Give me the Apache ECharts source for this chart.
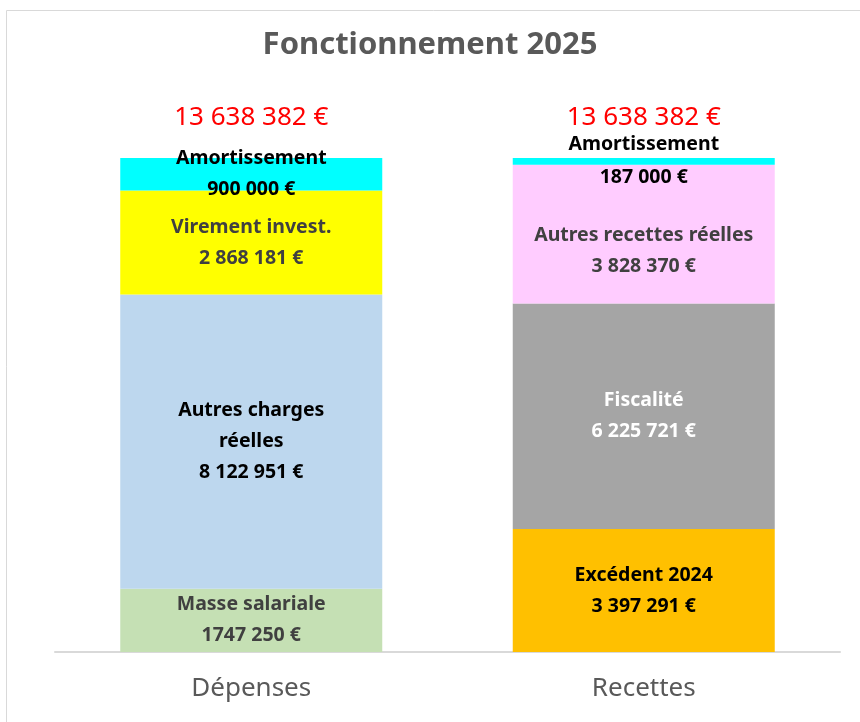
<!DOCTYPE html>
<html>
<head>
<meta charset="utf-8">
<script src="https://cdn.jsdelivr.net/npm/echarts@6/dist/echarts.min.js"></script>
<style>
  html, body { margin: 0; padding: 0; background: #fff; }
  #chart { width: 860px; height: 722px; }
</style>
</head>
<body>
<div id="chart"></div>
<script>
const categories = ['Dépenses', 'Recettes']

const depensesNames = ['Masse salariale', 'Autres charges\nréelles', 'Virement invest.', 'Amortissement']
const depensesValues = [1747250, 8122951, 2868181, 900000]
const depensesTexts = ['1747 250 €', '8 122 951 €', '2 868 181 €', '900 000 €']
const depensesColors = ['#C5E0B4', '#BDD7EE', '#FFFF00', '#00FFFF']
const depensesLabelColors = ['#404040', '#000000', '#404040', '#000000']

const recettesNames = ['Excédent 2024', 'Fiscalité', 'Autres recettes réelles', 'Amortissement']
const recettesValues = [3397291, 6225721, 3828370, 187000]
const recettesTexts = ['3 397 291 €', '6 225 721 €', '3 828 370 €', '187 000 €']
const recettesColors = ['#FFC000', '#A5A5A5', '#FFCCFF', '#00FFFF']
const recettesLabelColors = ['#000000', '#FFFFFF', '#404040', '#000000']

const font = '"Noto Sans", sans-serif'

function sum (arr) {
  return arr.reduce((a, b) => a + b, 0)
}
const totals = [sum(depensesValues), sum(recettesValues)]

function fmt (v) {
  return String(v).replace(/\B(?=(\d{3})+(?!\d))/g, ' ') + ' €'
}

let series = []
depensesValues.forEach((v, i) => {
  series.push({
    name: depensesNames[i],
    type: 'bar',
    stack: 'total',
    barWidth: 262,
    data: [v, '-'],
    itemStyle: { color: depensesColors[i] },
    label: {
      show: true,
      position: 'inside',
      formatter: depensesNames[i] + '\n' + depensesTexts[i],
      color: depensesLabelColors[i],
      fontFamily: font,
      fontWeight: 'bold',
      fontSize: 19.5,
      lineHeight: 31
    }
  })
})
recettesValues.forEach((v, i) => {
  let label = {
    show: true,
    position: 'inside',
    formatter: recettesNames[i] + '\n' + recettesTexts[i],
    color: recettesLabelColors[i],
    fontFamily: font,
    fontWeight: 'bold',
    fontSize: 19.5,
    lineHeight: 31
  }
  // décalage des étiquettes comme dans l'original
  if (i === 2) label.offset = [0, 17]
  if (i === 3) label.lineHeight = 33
  series.push({
    name: recettesNames[i],
    type: 'bar',
    stack: 'total',
    barWidth: 262,
    data: ['-', v],
    itemStyle: { color: recettesColors[i] },
    label: label
  })
})
// totaux au-dessus des colonnes
series.push({
  name: 'Total',
  type: 'bar',
  stack: 'total',
  barWidth: 262,
  data: [0, 0],
  itemStyle: { color: 'transparent' },
  label: {
    show: true,
    position: 'top',
    distance: 27,
    formatter: (p) => fmt(totals[p.dataIndex]),
    color: '#FF0000',
    fontFamily: font,
    fontSize: 26
  }
})

const option = {
  animation: false,
  title: {
    text: 'Fonctionnement 2025',
    left: 'center',
    top: 25,
    textStyle: {
      fontFamily: font,
      fontSize: 31,
      fontWeight: 'bold',
      color: '#595959'
    }
  },
  graphic: [{
    type: 'rect',
    shape: { x: 6.5, y: 10.5, width: 900, height: 800 },
    style: { fill: 'none', stroke: '#D9D9D9', lineWidth: 1 },
    silent: true
  }],
  grid: { left: 55, right: 20, top: 158, bottom: 70 },
  xAxis: {
    type: 'category',
    data: categories,
    axisLine: { lineStyle: { color: '#D9D9D9', width: 2 } },
    axisTick: { show: false },
    axisLabel: {
      color: '#595959',
      fontFamily: font,
      fontSize: 26,
      margin: 24
    }
  },
  yAxis: {
    type: 'value',
    min: 0,
    max: Math.max(...totals),
    show: false
  },
  series: series
}

const myChart = echarts.init(document.getElementById('chart'))
myChart.setOption(option)
</script>
</body>
</html>
